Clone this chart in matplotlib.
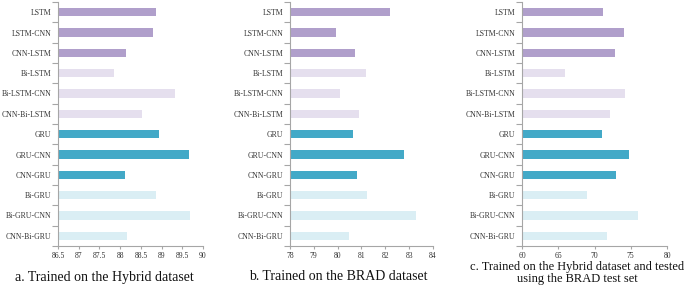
import matplotlib
matplotlib.use("Agg")
import matplotlib.pyplot as plt
from matplotlib.ticker import FixedLocator

plt.rcParams['font.family'] = ['Liberation Serif', 'DejaVu Serif']

models = ["LSTM", "LSTM-CNN", "CNN-LSTM", "Bi-LSTM", "Bi-LSTM-CNN", "CNN-Bi-LSTM",
          "GRU", "GRU-CNN", "CNN-GRU", "Bi-GRU", "Bi-GRU-CNN", "CNN-Bi-GRU"]

hybrid_vals = [88.87, 88.80, 88.13, 87.85, 89.32, 88.52,
               88.93, 89.66, 88.11, 88.87, 89.68, 88.17]
brad_vals = [82.20, 79.95, 80.73, 81.17, 80.09, 80.91,
             80.65, 82.78, 80.83, 81.21, 83.27, 80.48]
cross_vals = [71.2, 74.0, 72.8, 65.9, 74.2, 72.1,
              71.0, 74.75, 73.0, 68.9, 75.95, 71.7]

bar_colors = ["#B09FCB"] * 3 + ["#E5DFEE"] * 3 + ["#43A9C7"] * 3 + ["#DAEEF4"] * 3

panels = [
    dict(vals=hybrid_vals, xlim=(86.5, 90), ticks=[86.5, 87, 87.5, 88, 88.5, 89, 89.5, 90],
         ticklabels=["86.5", "87", "87.5", "88", "88.5", "89", "89.5", "90"],
         left=58, width=145, caption="a. Trained on the Hybrid dataset", cx=104, cy=277,
         cfs=10),
    dict(vals=brad_vals, xlim=(78, 84), ticks=[78, 79, 80, 81, 82, 83, 84],
         ticklabels=["78", "79", "80", "81", "82", "83", "84"],
         left=290, width=143, caption="b. Trained on the BRAD dataset", cx=338, cy=277,
         cfs=10),
    dict(vals=cross_vals, xlim=(60, 80), ticks=[60, 65, 70, 75, 80],
         ticklabels=["60", "65", "70", "75", "80"],
         left=522, width=145,
         caption="c. Trained on the Hybrid dataset and tested\nusing the BRAD test set",
         cx=577, cy=273, cfs=9.0),
]

W, H = 685, 294
fig = plt.figure(figsize=(W / 100, H / 100), dpi=100)
axis_col = "#A6A6A6"

for p in panels:
    ax = fig.add_axes([p["left"] / W, (H - 246) / H, p["width"] / W, 244 / H])
    ypos = list(range(len(models)))
    base = p["xlim"][0]
    ax.barh(ypos, [v - base for v in p["vals"]], left=base, height=0.42,
            color=bar_colors, edgecolor="none")
    ax.set_xlim(*p["xlim"])
    ax.set_ylim(len(models) - 0.5, -0.5)
    ax.set_yticks(ypos)
    ax.set_yticklabels(models, fontsize=5.6)
    ax.yaxis.set_minor_locator(FixedLocator([i - 0.5 for i in range(len(models) + 1)]))
    ax.tick_params(axis='y', which='major', length=0, pad=5, colors='#333333')
    ax.tick_params(axis='y', which='minor', length=4, color=axis_col, width=0.8)
    ax.set_xticks(p["ticks"])
    ax.set_xticklabels(p["ticklabels"], fontsize=5.5)
    ax.tick_params(axis='x', length=2.5, color=axis_col, width=0.8, pad=1.5, labelcolor='#333333')
    for s in ["top", "right"]:
        ax.spines[s].set_visible(False)
    for s in ["left", "bottom"]:
        ax.spines[s].set_color(axis_col)
        ax.spines[s].set_linewidth(0.8)
    fig.text(p["cx"] / W, 1 - p["cy"] / H, p["caption"], ha="center", va="center",
             fontsize=p["cfs"], linespacing=1.05, color="#111111")

fig.savefig("out.png", dpi=100)
